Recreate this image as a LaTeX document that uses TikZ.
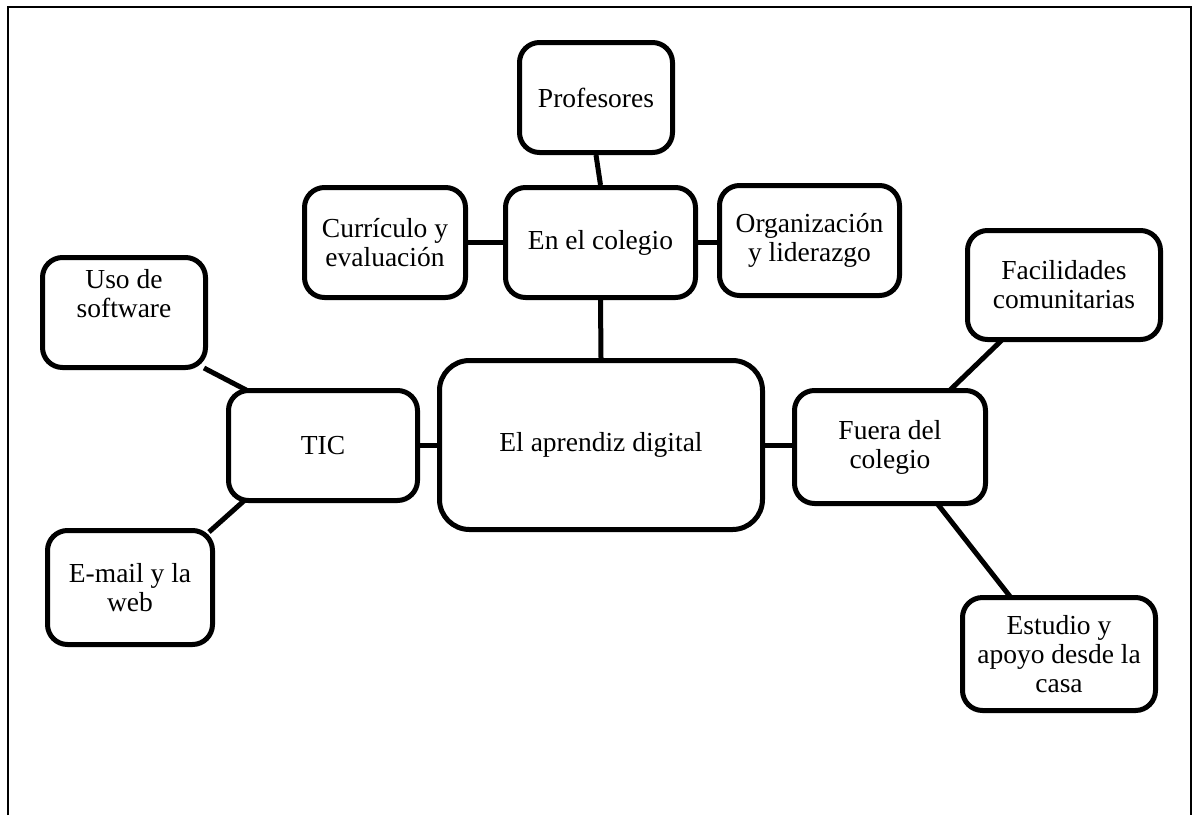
\documentclass[tikz,border=0pt]{standalone}
\usepackage{fontspec}
\setmainfont{Liberation Serif}
\usetikzlibrary{calc}
\pgfdeclarelayer{background}
\pgfsetlayers{background,main}
\tikzset{
  box/.style={draw=black, fill=white, line width=5pt, rounded corners=20pt,
    align=center, inner sep=0pt, font=\fontsize{27.5}{29}\selectfont},
  bigbox/.style={box, rounded corners=30pt},
  txt/.style={align=center, inner sep=0pt, font=\fontsize{27.5}{29}\selectfont},
  conn/.style={draw=black, line width=5pt},
  frame/.style={draw=black, line width=1.6pt}
}
\begin{document}
\begin{tikzpicture}[x=1pt,y=-1pt]
\useasboundingbox (0,0) rectangle (1195,815);
\draw[frame] (8,815) -- (8,7) -- (1191,7) -- (1191,815);

\node[box, minimum width=153pt, minimum height=110pt] (prof) at (596,97.5) {Profesores};
\node[box, minimum width=161pt, minimum height=110pt] (curr) at (385,242.5) {Currículo y\\evaluación};
\node[box, minimum width=190pt, minimum height=110pt] (cole) at (600.5,242.5) {En el colegio};
\node[box, minimum width=180pt, minimum height=110pt] (org) at (809.5,240.5) {Organización\\y liderazgo};
\node[box, minimum width=163pt, minimum height=110pt] (uso) at (124,312.5) {};
\node[txt] (usotxt) at (124,293.5) {Uso de\\software};
\node[box, minimum width=193pt, minimum height=109pt] (fac) at (1064,285) {Facilidades\\comunitarias};
\node[box, minimum width=189pt, minimum height=110pt] (tic) at (323,445.5) {TIC};
\node[bigbox, minimum width=323pt, minimum height=169pt] (apr) at (601,445) {El aprendiz digital};
\node[box, minimum width=191pt, minimum height=113pt] (fue) at (890,447) {Fuera del\\colegio};
\node[box, minimum width=165pt, minimum height=114pt] (email) at (130,587.5) {E-mail y la\\web};
\node[box, minimum width=193pt, minimum height=113pt] (est) at (1059,654) {Estudio y\\apoyo desde la\\casa};

\begin{pgfonlayer}{background}
\draw[conn] (prof.south) -- (cole.north);
\draw[conn] (cole.south) -- (apr.north);
\draw[conn] (curr.east) -- (curr.east -| cole.west);
\draw[conn] (cole.east) -- (cole.east -| org.west);
\draw[conn] (tic.east) -- (tic.east -| apr.west);
\draw[conn] (apr.east) -- (apr.east -| fue.west);
\draw[conn] ($(uso.south east)+(-4,-2)$) -- ($(tic.north west)+(24,4)$);
\draw[conn] ($(tic.south west)+(20,-4)$) -- ($(email.north east)+(-6,4)$);
\draw[conn] ($(fue.north east)+(-40,4)$) -- ($(fac.south west)+(39,-4)$);
\draw[conn] ($(fue.south)+(46,-4)$) -- ($(est.north west)+(52,4)$);
\end{pgfonlayer}
\end{tikzpicture}
\end{document}
